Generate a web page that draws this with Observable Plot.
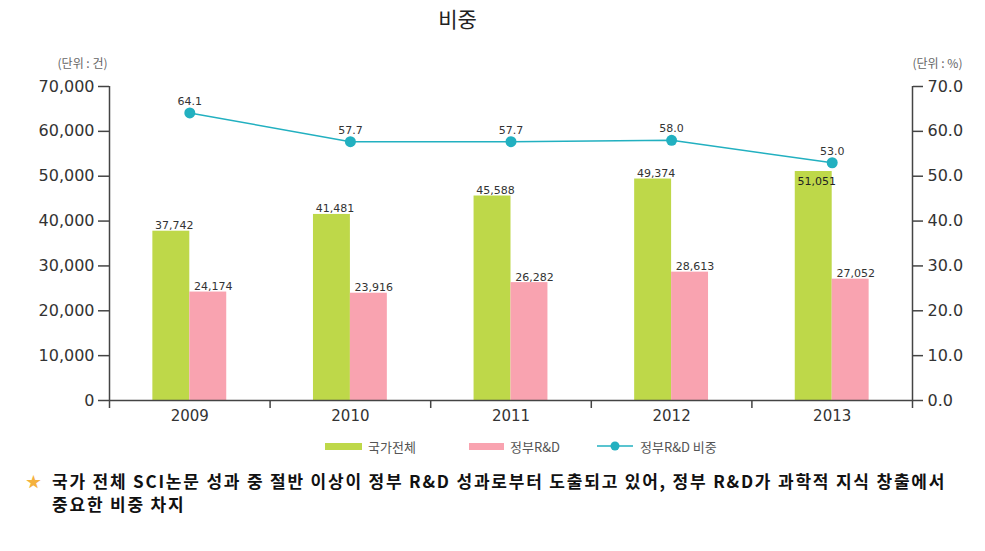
<!DOCTYPE html>
<html>
<head>
<meta charset="utf-8">
<script src="https://cdn.jsdelivr.net/npm/d3@7"></script>
<script src="https://cdn.jsdelivr.net/npm/@observablehq/plot@0.6"></script>
<style>
  body { margin: 0; background: #fff; font-family: "Noto Sans CJK KR", "Noto Sans", sans-serif; width: 985px; height: 551px; position: relative; overflow: hidden; }
  #title { position: absolute; left: 0; top: 0; width: 915px; text-align: center; font-size: 21px; line-height: 36px; color: #222; }
  #chart { position: absolute; left: 0; top: 40px; }
  #legend { position: absolute; top: 436px; left: 0; width: 985px; height: 20px; font-size: 13px; color: #555; }
  #legend .item { position: absolute; top: 0; display: flex; align-items: center; height: 20px; }
  #legend .sw { display: inline-block; height: 7px; margin-right: 6px; }
  #note { position: absolute; top: 469px; left: 26px; width: 955px; display: flex; align-items: flex-start; font-size: 17px; font-weight: bold; line-height: 23px; color: #111; }
  #note .star { color: #f4b13e; font-size: 15px; width: 26px; flex: none; }
  #note .txt { letter-spacing: 1.8px; white-space: nowrap; }
</style>
</head>
<body>
<div id="title"></div>
<div id="chart"></div>
<div id="legend"></div>
<div id="note"></div>
<script>
const titleText = "비중";
const years = [2009, 2010, 2011, 2012, 2013];
const national = [37742, 41481, 45588, 49374, 51051];
const govRnD = [24174, 23916, 26282, 28613, 27052];
const govShare = [64.1, 57.7, 57.7, 58.0, 53.0];
const leftTicks = [0, 10000, 20000, 30000, 40000, 50000, 60000, 70000];
const seriesNames = ["국가전체", "정부R&D", "정부R&D 비중"];
const leftUnit = "(단위 : 건)";
const rightUnit = "(단위 : %)";
const noteLines = ["국가 전체 SCI논문 성과 중 절반 이상이 정부 R&D 성과로부터 도출되고 있어, 정부 R&D가 과학적 지식 창출에서", "중요한 비중 차지"];

const colors = { national: "#bed849", gov: "#f9a3b0", share: "#22b0c0" };
const shareScale = 1000; // 1% on right axis = 1000 on left axis
const barFrac = 0.23;

const rows = years.map((year, i) => ({ year, national: national[i], gov: govRnD[i], share: govShare[i] }));
const lastYear = years[years.length - 1];
const xDomain = [years[0] - 0.5, lastYear + 0.5];
const boundaries = years.map(y => y - 0.5).concat([lastYear + 0.5]);
const fmt = d3.format(",");

const chart = Plot.plot({
  width: 985,
  height: 390,
  marginTop: 46,
  marginBottom: 30,
  marginLeft: 109,
  marginRight: 73,
  style: { fontFamily: "DejaVu Sans, sans-serif", fontSize: "16px", color: "#333", background: "#fff" },
  x: { type: "linear", domain: xDomain, axis: null },
  y: { domain: [0, 70000], axis: null },
  marks: [
    Plot.rectY(rows, { x1: d => d.year - barFrac, x2: d => d.year, y: "national", fill: colors.national }),
    Plot.rectY(rows, { x1: d => d.year, x2: d => d.year + barFrac, y: "gov", fill: colors.gov }),
    Plot.ruleY([0], { stroke: "#444", strokeWidth: 1.5 }),
    Plot.ruleX(xDomain, { y1: 0, y2: 70000, stroke: "#444", strokeWidth: 1.5 }),
    Plot.axisY(leftTicks, { anchor: "left", tickSize: 11, tickPadding: 4, tickFormat: fmt, stroke: "#444", strokeWidth: 1.5, label: null }),
    Plot.axisY(leftTicks, { anchor: "right", tickSize: 10, tickPadding: 5, tickFormat: d => (d / shareScale).toFixed(1), stroke: "#444", strokeWidth: 1.5, label: null }),
    Plot.axisX(boundaries, { tickSize: 8, tickFormat: () => "", stroke: "#444", strokeWidth: 1.5, label: null }),
    Plot.axisX(years, { tickSize: 0, tickPadding: 10, tickFormat: d => String(d), fontSize: 15, label: null }),
    Plot.text(rows.filter(d => d.year !== lastYear), { x: d => d.year - barFrac / 2, y: "national", text: d => fmt(d.national), dx: 3, dy: -2, lineAnchor: "bottom", fontSize: 11, fill: "#333" }),
    Plot.text(rows.filter(d => d.year === lastYear), { x: d => d.year - barFrac / 2, y: "national", text: d => fmt(d.national), dx: 3, dy: 6, lineAnchor: "top", fontSize: 11, fill: "#222" }),
    Plot.text(rows, { x: d => d.year + barFrac / 2, y: "gov", text: d => fmt(d.gov), dx: 5, dy: -2, lineAnchor: "bottom", fontSize: 11, fill: "#333" }),
    Plot.line(rows, { x: "year", y: d => d.share * shareScale, stroke: colors.share, strokeWidth: 1.5 }),
    Plot.dot(rows, { x: "year", y: d => d.share * shareScale, r: 5.5, fill: colors.share }),
    Plot.text(rows, { x: "year", y: d => d.share * shareScale, text: d => d.share.toFixed(1), dy: -8, lineAnchor: "bottom", fontSize: 11, fill: "#333" }),
    Plot.text([leftUnit], { frameAnchor: "top-left", textAnchor: "middle", dx: -27, dy: -27, fontSize: 12, fill: "#666", fontFamily: "Noto Sans CJK KR" }),
    Plot.text([rightUnit], { frameAnchor: "top-right", textAnchor: "middle", dx: 25, dy: -27, fontSize: 12, fill: "#666", fontFamily: "Noto Sans CJK KR" })
  ]
});
document.getElementById("chart").appendChild(chart);
document.getElementById("title").textContent = titleText;

const legend = document.getElementById("legend");
const legendItems = [
  { name: seriesNames[0], left: 325, kind: "rect", w: 37, color: colors.national },
  { name: seriesNames[1], left: 469, kind: "rect", w: 35, color: colors.gov },
  { name: seriesNames[2], left: 597, kind: "line", color: colors.share }
];
for (const it of legendItems) {
  const div = document.createElement("div");
  div.className = "item";
  div.style.left = it.left + "px";
  if (it.kind === "rect") {
    div.innerHTML = `<span class="sw" style="width:${it.w}px;background:${it.color}"></span><span>${it.name}</span>`;
  } else {
    div.innerHTML = `<svg width="36" height="12" style="margin-right:7px"><line x1="0" y1="6" x2="36" y2="6" stroke="${it.color}" stroke-width="1.5"/><circle cx="18" cy="6" r="4.5" fill="${it.color}"/></svg><span>${it.name}</span>`;
  }
  legend.appendChild(div);
}
document.getElementById("note").innerHTML = `<span class="star">★</span><span class="txt">${noteLines[0]}<br>${noteLines[1]}</span>`;
</script>
</body>
</html>
